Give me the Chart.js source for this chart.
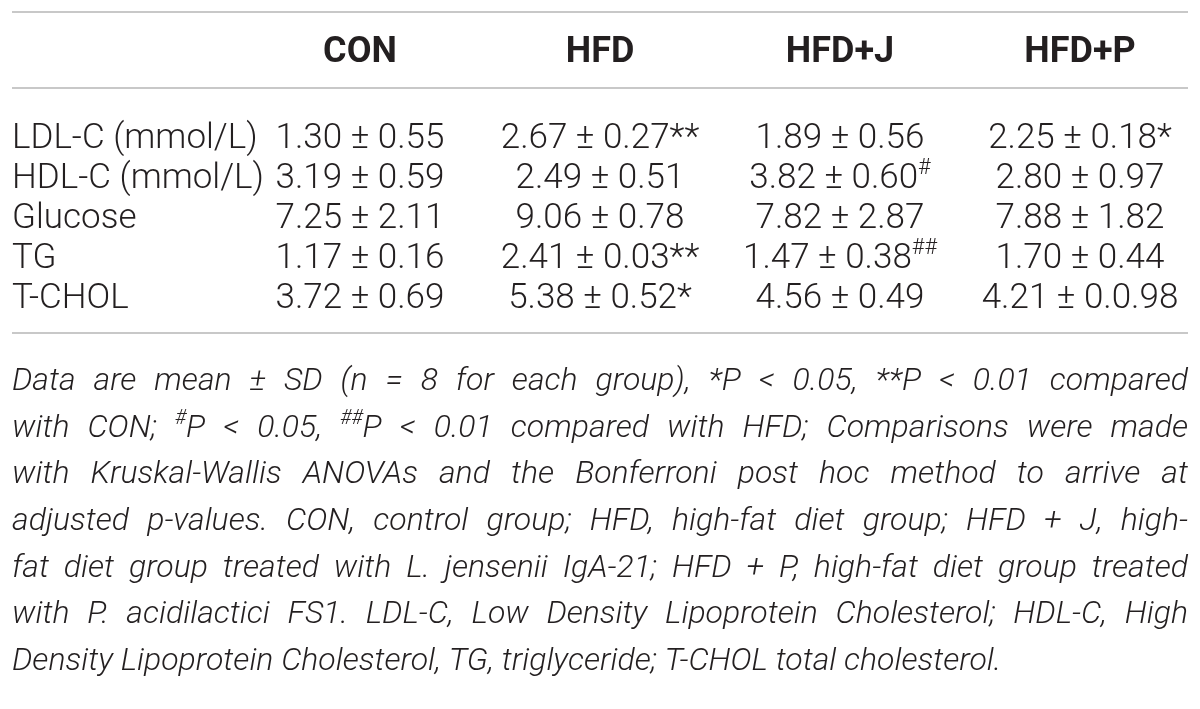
<!DOCTYPE html>
<html><head><meta charset="utf-8">
<script src="https://cdn.jsdelivr.net/npm/chart.js@4.4.1/dist/chart.umd.min.js"></script>
<style>html,body{margin:0;padding:0;background:#fff;overflow:hidden}canvas{display:block}</style>
</head><body>
<canvas id="c" width="1200" height="709"></canvas>
<script>
// ---- data ----
const groups = ['CON', 'HFD', 'HFD+J', 'HFD+P'];
const rowLabels = ['LDL-C (mmol/L)', 'HDL-C (mmol/L)', 'Glucose', 'TG', 'T-CHOL'];
const meanCON  = [1.30, 3.19, 7.25, 1.17, 3.72];
const sdCON    = ['0.55', '0.59', '2.11', '0.16', '0.69'];
const markCON  = ['', '', '', '', ''];
const meanHFD  = [2.67, 2.49, 9.06, 2.41, 5.38];
const sdHFD    = ['0.27', '0.51', '0.78', '0.03', '0.52'];
const markHFD  = ['**', '', '', '**', '*'];
const meanHFDJ = [1.89, 3.82, 7.82, 1.47, 4.56];
const sdHFDJ   = ['0.56', '0.60', '2.87', '0.38', '0.49'];
const markHFDJ = ['', '#', '', '##', ''];
const meanHFDP = [2.25, 2.80, 7.88, 1.70, 4.21];
const sdHFDP   = ['0.18', '0.97', '1.82', '0.44', '0.0.98'];
const markHFDP = ['*', '', '', '', ''];
const footnoteLines = [
  'Data are mean ± SD (n = 8 for each group), *P < 0.05, **P < 0.01 compared',
  'with CON; {#}P < 0.05, {##}P < 0.01 compared with HFD; Comparisons were made',
  'with Kruskal-Wallis ANOVAs and the Bonferroni post hoc method to arrive at',
  'adjusted p-values. CON, control group; HFD, high-fat diet group; HFD + J, high-',
  'fat diet group treated with L. jensenii IgA-21; HFD + P, high-fat diet group treated',
  'with P. acidilactici FS1. LDL-C, Low Density Lipoprotein Cholesterol; HDL-C, High',
  'Density Lipoprotein Cholesterol, TG, triglyceride; T-CHOL total cholesterol.'
];

const means = [meanCON, meanHFD, meanHFDJ, meanHFDP];
const sds = [sdCON, sdHFD, sdHFDJ, sdHFDP];
const marks = [markCON, markHFD, markHFDJ, markHFDP];

// ---- layout (scale units: x = column index, y = table row index) ----
const FAMILY = "Roboto, 'Liberation Sans', Arial, sans-serif";
const TEXT = '#231f20';
const RULE = '#c8c8c8';
const TABLE_FS = 35;
const HEAD_FS = 36;
const X_LEFT = -0.45, X_RIGHT = 4.45;
const Y_MIN = -3.7, Y_MAX = 14.025;
const Y_TOPRULE = -3.4, Y_HEADER = -2.15, Y_HEADRULE = -1.5, Y_BOTRULE = 4.625;
const Y_NOTE0 = 6.05, NOTE_STEP = 1.1667;

function segsOf(word) {
  const out = [];
  const re = /\{([^}]*)\}/g;
  let last = 0, m;
  while ((m = re.exec(word))) {
    if (m.index > last) out.push({ t: word.slice(last, m.index), sup: false });
    out.push({ t: m[1], sup: true });
    last = re.lastIndex;
  }
  if (last < word.length) out.push({ t: word.slice(last), sup: false });
  return out;
}
function fontStr(style, weight, size) { return `${style} ${weight} ${size}px ${FAMILY}`; }
function richWidth(ctx, segs, style, weight, fs) {
  let w = 0;
  for (const s of segs) {
    ctx.font = fontStr(style, weight, s.sup ? fs * 0.62 : fs);
    w += ctx.measureText(s.t).width;
  }
  return w;
}
function drawRich(ctx, segs, x, y, style, weight, fs) {
  for (const s of segs) {
    const size = s.sup ? fs * 0.62 : fs;
    ctx.font = fontStr(style, weight, size);
    ctx.fillText(s.t, x, s.sup ? y - fs * 0.40 : y);
    x += ctx.measureText(s.t).width;
  }
  return x;
}

const tablePlugin = {
  id: 'tablePlugin',
  afterDatasetsDraw(chart) {
    const ctx = chart.ctx;
    const xs = chart.scales.x, ys = chart.scales.y;
    const xl = xs.getPixelForValue(X_LEFT), xr = xs.getPixelForValue(X_RIGHT);
    ctx.save();
    // rules
    ctx.strokeStyle = RULE;
    ctx.lineWidth = 2;
    for (const v of [Y_TOPRULE, Y_HEADRULE, Y_BOTRULE]) {
      const py = Math.round(ys.getPixelForValue(v));
      ctx.beginPath(); ctx.moveTo(xl, py); ctx.lineTo(xr, py); ctx.stroke();
    }
    ctx.fillStyle = TEXT;
    ctx.textBaseline = 'alphabetic';
    ctx.textAlign = 'left';
    // header
    groups.forEach((g, gi) => {
      ctx.font = fontStr('normal', 700, HEAD_FS);
      const w = ctx.measureText(g).width;
      ctx.fillText(g, xs.getPixelForValue(gi + 1) - w / 2, ys.getPixelForValue(Y_HEADER));
    });
    // row labels (dataset 0)
    const m0 = chart.getDatasetMeta(0);
    m0.data.forEach((pt, i) => {
      ctx.font = fontStr('normal', 300, TABLE_FS);
      ctx.fillText(rowLabels[i], pt.x, pt.y);
    });
    // cells
    for (let gi = 0; gi < groups.length; gi++) {
      const meta = chart.getDatasetMeta(gi + 1);
      meta.data.forEach((pt, i) => {
        const segs = [{ t: means[gi][i].toFixed(2) + ' ± ' + sds[gi][i], sup: false }];
        const mk = marks[gi][i];
        if (mk) segs.push({ t: mk, sup: mk.includes('#') });
        const w = richWidth(ctx, segs, 'normal', 300, TABLE_FS);
        drawRich(ctx, segs, pt.x - w / 2, pt.y, 'normal', 300, TABLE_FS);
      });
    }
    // footnote (justified)
    const avail = xr - xl;
    const parsed = footnoteLines.map(l => l.split(' ').map(segsOf));
    ctx.font = fontStr('italic', 300, 100);
    const sp100 = ctx.measureText(' ').width;
    let maxNat = 0;
    parsed.forEach(words => {
      const nat = words.reduce((a, w) => a + richWidth(ctx, w, 'italic', 300, 100), 0) + sp100 * (words.length - 1);
      maxNat = Math.max(maxNat, nat);
    });
    const fs = Math.min(32, 100 * avail * 0.99 / maxNat);
    parsed.forEach((words, li) => {
      const py = ys.getPixelForValue(Y_NOTE0 + li * NOTE_STEP);
      const widths = words.map(w => richWidth(ctx, w, 'italic', 300, fs));
      const sum = widths.reduce((a, b) => a + b, 0);
      ctx.font = fontStr('italic', 300, fs);
      const sp = ctx.measureText(' ').width;
      const last = li === parsed.length - 1;
      const gap = last ? sp : (avail - sum) / (words.length - 1);
      let x = xl;
      words.forEach((w, wi) => {
        drawRich(ctx, w, x, py, 'italic', 300, fs);
        x += widths[wi] + gap;
      });
    });
    ctx.restore();
  }
};

function build() {
  const datasets = [{
    label: 'labels',
    data: rowLabels.map((_, i) => ({ x: X_LEFT, y: i }))
  }].concat(groups.map((g, gi) => ({
    label: g,
    data: means[gi].map((_, i) => ({ x: gi + 1, y: i }))
  })));
  new Chart(document.getElementById('c'), {
    type: 'scatter',
    data: { datasets },
    options: {
      responsive: false,
      animation: false,
      devicePixelRatio: 1,
      layout: { padding: 0 },
      events: [],
      elements: { point: { radius: 0, hoverRadius: 0 } },
      plugins: { legend: { display: false }, tooltip: { enabled: false } },
      scales: {
        x: { type: 'linear', min: -0.5, max: 4.5, display: false },
        y: { type: 'linear', reverse: true, min: Y_MIN, max: Y_MAX, display: false }
      }
    },
    plugins: [tablePlugin]
  });
}
const loads = [
  document.fonts.load(`300 35px Roboto`),
  document.fonts.load(`700 36px Roboto`),
  document.fonts.load(`italic 300 30px Roboto`)
];
Promise.all(loads).then(build, build);
</script>
</body></html>
